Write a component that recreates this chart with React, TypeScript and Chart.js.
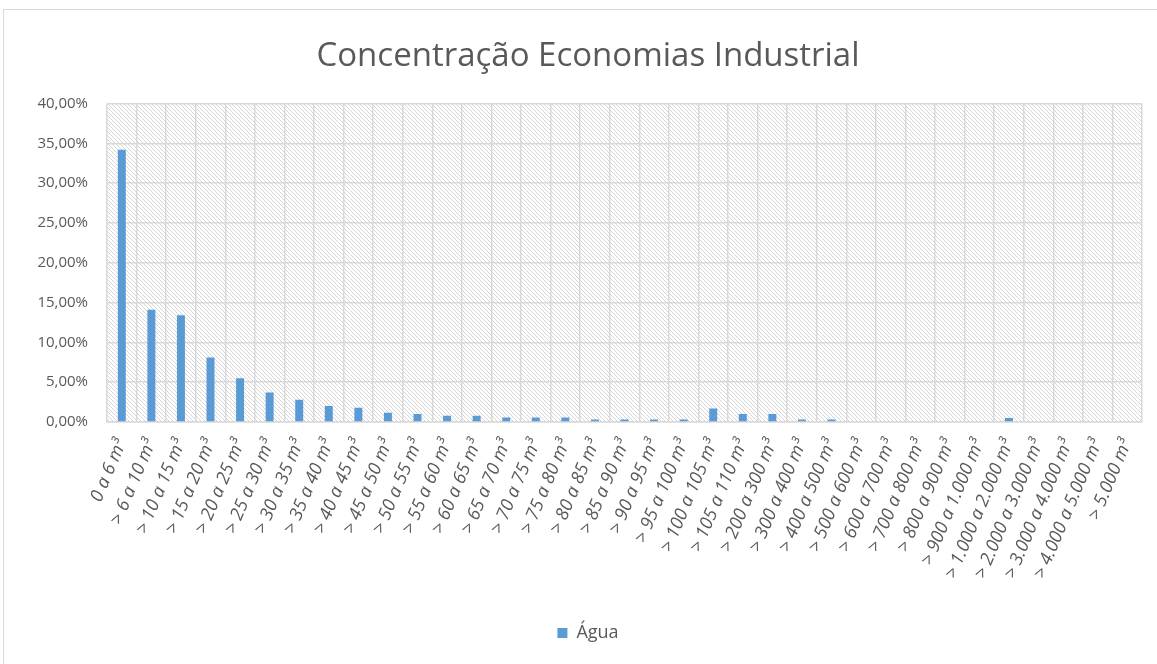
import React, { useEffect, useRef } from "react";
import { Chart, registerables } from "chart.js";

Chart.register(...registerables);

const categories: string[] = [
  "0 a 6 m³", "> 6 a 10 m³", "> 10 a 15 m³", "> 15 a 20 m³", "> 20 a 25 m³",
  "> 25 a 30 m³", "> 30 a 35 m³", "> 35 a 40 m³", "> 40 a 45 m³", "> 45 a 50 m³",
  "> 50 a 55 m³", "> 55 a 60 m³", "> 60 a 65 m³", "> 65 a 70 m³", "> 70 a 75 m³",
  "> 75 a 80 m³", "> 80 a 85 m³", "> 85 a 90 m³", "> 90 a 95 m³", "> 95 a 100 m³",
  "> 100 a 105 m³", "> 105 a 110 m³", "> 200 a 300 m³", "> 300 a 400 m³", "> 400 a 500 m³",
  "> 500 a 600 m³", "> 600 a 700 m³", "> 700 a 800 m³", "> 800 a 900 m³", "> 900 a 1.000 m³",
  "> 1.000 a 2.000 m³", "> 2.000 a 3.000 m³", "> 3.000 a 4.000 m³", "> 4.000 a 5.000 m³", "> 5.000 m³",
];

const agua: number[] = [
  34.2, 14.1, 13.4, 8.1, 5.5,
  3.7, 2.8, 2.0, 1.8, 1.15,
  1.0, 0.77, 0.77, 0.55, 0.55,
  0.55, 0.3, 0.3, 0.3, 0.3,
  1.7, 1.0, 1.0, 0.3, 0.3,
  0, 0, 0, 0, 0,
  0.5, 0, 0, 0, 0,
];

const seriesName = "Água";
const chartTitle = "Concentração Economias Industrial";
const yMax = 40;
const yStep = 5;

const hatchPlugin = {
  id: "hatchBg",
  beforeDraw(chart: any) {
    const { ctx, chartArea } = chart;
    if (!chartArea) return;
    const p = document.createElement("canvas");
    p.width = 4;
    p.height = 4;
    const pc = p.getContext("2d")!;
    pc.fillStyle = "#ffffff";
    pc.fillRect(0, 0, 4, 4);
    pc.strokeStyle = "#d6d6d6";
    pc.lineWidth = 1;
    pc.beginPath();
    pc.moveTo(-1, -1);
    pc.lineTo(5, 5);
    pc.moveTo(-1, 3);
    pc.lineTo(1, 5);
    pc.moveTo(3, -1);
    pc.lineTo(5, 1);
    pc.stroke();
    const pattern = ctx.createPattern(p, "repeat");
    ctx.save();
    ctx.fillStyle = pattern;
    ctx.fillRect(chartArea.left, chartArea.top, chartArea.right - chartArea.left, chartArea.bottom - chartArea.top);
    ctx.restore();
  },
};

const frameStyle: React.CSSProperties = {
  position: "fixed",
  left: 3,
  top: 9,
  width: 1160,
  height: 660,
  borderTop: "1px solid #d9d9d9",
  borderLeft: "1px solid #d9d9d9",
  pointerEvents: "none",
};

export default function App() {
  const ref = useRef<HTMLCanvasElement | null>(null);
  useEffect(() => {
    if (!ref.current) return;
    const chart = new Chart(ref.current, {
      type: "bar",
      data: {
        labels: categories,
        datasets: [
          {
            label: seriesName,
            data: agua,
            backgroundColor: "#5b9bd5",
            borderWidth: 0,
            categoryPercentage: 1,
            barPercentage: 0.27,
          },
        ],
      },
      plugins: [hatchPlugin],
      options: {
        animation: false,
        responsive: false,
        layout: { padding: { left: 34, right: 15, top: 0, bottom: 12 } },
        plugins: {
          title: {
            display: true,
            text: chartTitle,
            color: "#595959",
            font: { family: "'Open Sans'", size: 33, weight: "normal" },
            padding: { top: 37, bottom: 27 },
          },
          legend: {
            position: "bottom",
            labels: {
              color: "#595959",
              font: { family: "'Open Sans'", size: 18 },
              boxWidth: 10,
              boxHeight: 10,
              padding: 10,
            },
          },
          tooltip: { enabled: false },
        },
        scales: {
          x: {
            grid: { color: "#d9d9d9", lineWidth: 1.5, offset: true, drawTicks: false },
            border: { color: "#d9d9d9", width: 1.5 },
            ticks: {
              color: "#595959",
              font: { family: "'Open Sans'", size: 18, style: "italic" },
              minRotation: 67,
              maxRotation: 67,
              autoSkip: false,
              padding: 14,
            },
            afterFit(scale: any) {
              scale.height = 192;
              scale.paddingRight = 0;
              scale.paddingLeft = 0;
            },
          },
          y: {
            min: 0,
            max: yMax,
            grid: { color: "#d9d9d9", lineWidth: 1.5, drawTicks: false },
            border: { display: false },
            ticks: {
              stepSize: yStep,
              color: "#595959",
              font: { family: "'Open Sans'", size: 15 },
              padding: 19,
              callback: (v: any) => Number(v).toFixed(2).replace(".", ",") + "%",
            },
            afterFit(scale: any) {
              scale.width = 73;
            },
          },
        },
      },
    });
    return () => chart.destroy();
  }, []);
  return (
    <div>
      <canvas
        ref={ref}
        width={1157}
        height={664}
        style={{ position: "fixed", left: 0, top: 0, width: 1157, height: 664 }}
      />
      <div style={frameStyle} />
    </div>
  );
}
